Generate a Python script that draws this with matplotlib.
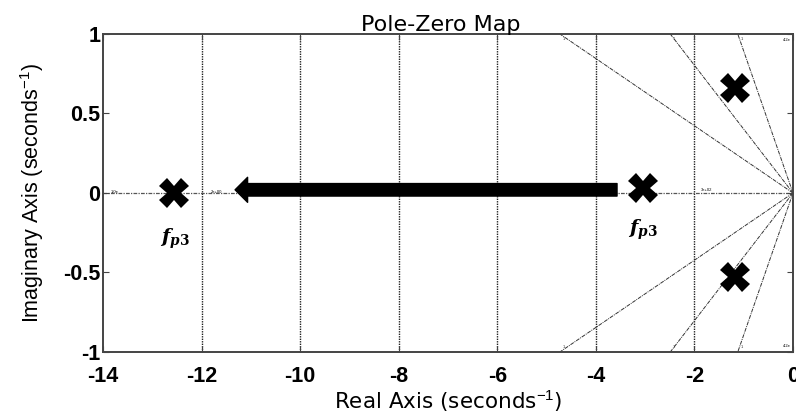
import matplotlib.pyplot as plt
import numpy as np

plt.rcParams['font.family'] = ['Liberation Sans', 'DejaVu Sans']
plt.rcParams['mathtext.fontset'] = 'custom'
plt.rcParams['mathtext.it'] = 'DejaVu Serif:italic:bold'
plt.rcParams['mathtext.rm'] = 'DejaVu Serif:bold'
plt.rcParams['mathtext.sf'] = 'Liberation Sans'

# Poles (real, imag)
pole_re = [-12.55, -3.05, -1.18, -1.18]
pole_im = [0.0, 0.03, 0.66, -0.53]

# Natural-frequency grid (near-vertical at this aspect) and damping rays
wn_grid = [-12, -10, -8, -6, -4, -2]
ray_x_at_edge = [-4.73, -2.49, -1.12]

# Pole movement arrow
arrow_start = (-3.57, 0.02)
arrow_end = (-11.32, 0.02)

fig = plt.figure(figsize=(7.96, 4.19), dpi=100)
ax = fig.add_axes([0.1294, 0.1599, 0.8668, 0.759])

ax.set_xlim(-14, 0)
ax.set_ylim(-1, 1)

# grid
for gx in wn_grid:
    ax.axvline(gx, color='#222222', lw=1.0, ls=(0, (1, 0.8)), zorder=1)
ax.plot([-14, 0], [0, 0], color='#555555', lw=0.9, ls=(0, (3, 1, 1, 1)), zorder=1)
for rx in ray_x_at_edge:
    for sgn in (1, -1):
        ax.plot([0, rx], [0, sgn], color='#333333', lw=0.7, ls=(0, (4, 1, 1, 1)), zorder=1)
        ax.text(rx + 0.08, sgn * 0.97, '1', fontsize=3, ha='center', va='center', color='#333333')
ax.text(-0.12, 0.96, '4.2e', fontsize=3, ha='center', va='center')
ax.text(-0.12, -0.96, '4.2e', fontsize=3, ha='center', va='center')
ax.text(-13.85, 0.005, '1.0e', fontsize=3, ha='left', va='center')
ax.text(-11.7, 0.005, '2e+00', fontsize=3, ha='center', va='center')
ax.text(-1.75, 0.02, '3e+02', fontsize=3, ha='center', va='center')

# arrow
ax.annotate('', xy=arrow_end, xytext=arrow_start,
            arrowprops=dict(arrowstyle='simple,head_length=0.45,head_width=0.9,tail_width=0.45',
                            mutation_scale=20, color='black', shrinkA=0, shrinkB=0),
            zorder=3)

# poles
ax.plot(pole_re, pole_im, linestyle='none', marker='X', markersize=21,
        color='black', markeredgewidth=0, zorder=4)

# pole labels
ax.text(-12.55, -0.29, r'$f_{p3}$', fontsize=14, ha='center', va='center')
ax.text(-3.05, -0.23, r'$f_{p3}$', fontsize=14, ha='center', va='center')

ax.set_xticks(np.arange(-14, 1, 2))
ax.set_yticks([-1, -0.5, 0, 0.5, 1])
ax.set_xticklabels(['-14', '-12', '-10', '-8', '-6', '-4', '-2', '0'])
ax.set_yticklabels(['-1', '-0.5', '0', '0.5', '1'])
ax.tick_params(direction='in', length=4, width=0.8, top=True, right=True,
               labelsize=15.5, colors='#444444', labelcolor='black')
ax.tick_params(axis='x', pad=10)
ax.tick_params(axis='y', pad=2)
for lab in ax.get_xticklabels() + ax.get_yticklabels():
    lab.set_fontweight('bold')
for sp in ax.spines.values():
    sp.set_color('#444444')
    sp.set_linewidth(1.4)

ax.set_xlabel(r'Real Axis (seconds$^{\mathsf{-1}}$)', fontsize=15.5,
              family=['DejaVu Sans'], labelpad=1)
ax.set_ylabel(r'Imaginary Axis (seconds$^{\mathsf{-1}}$)', fontsize=15.5, labelpad=12)
ax.set_title('Pole-Zero Map', fontsize=16, family=['DejaVu Sans'], pad=2, x=0.49)

fig.savefig('out.png', dpi=100)
